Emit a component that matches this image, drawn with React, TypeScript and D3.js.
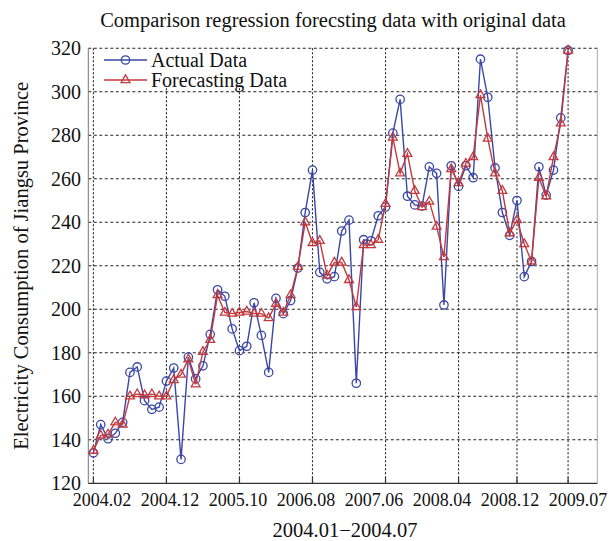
import * as d3 from 'd3';

// month index counted from 2004.01 (= 0), data runs 2004.02 .. 2009.07
const months = d3.range(1, 67);

const actual = [
  134, 147, 140.5, 143, 148, 171, 173.5, 158, 154, 155,
  167, 173, 131, 178, 168, 174, 188.5, 209, 206, 191,
  181, 183, 203, 188, 171, 205, 198, 204, 219, 244.5,
  264, 217, 214, 215, 236, 241, 166, 232, 231.5, 243,
  247, 281, 296.5, 252, 248, 247.5, 265.5, 262.5, 202, 266,
  256.5, 266, 260.5, 315, 297.5, 265, 244.5, 234, 250, 215,
  222, 265.5, 252.5, 264, 288, 319,
];

const forecast = [
  135, 142, 142.5, 148, 147, 160, 161, 160.5, 161, 160,
  160, 167.5, 170, 177, 165.5, 180.5, 186, 206.5, 198.5, 198,
  198.5, 199, 198, 198, 196, 202.5, 198.5, 206.5, 219.5, 240,
  230.5, 231.5, 215.5, 221.5, 221.5, 213.5, 201, 229.5, 229.5, 232,
  248.5, 279, 262.5, 271.5, 254.5, 247, 249.5, 238, 224, 264.5,
  258, 267, 270, 298.5, 278.5, 262.5, 254.5, 235, 241, 230,
  222, 260.5, 252, 270, 285.5, 319,
];

const tickMonths = [1, 11, 21, 31, 41, 51, 59, 66];
const tickLabels = ['2004.02', '2004.12', '2005.10', '2006.08', '2007.06', '2008.04', '2008.12', '2009.07'];
const yTicks = [120, 140, 160, 180, 200, 220, 240, 260, 280, 300, 320];

const BLUE = '#3a47a6';
const RED = '#c23a3e';
const FONT = '"Liberation Serif", "Times New Roman", serif';

export default function App() {
  const width = 611;
  const height = 541;
  const plot = { left: 88.3, right: 597.3, top: 48.3, bottom: 483.3 };

  const x = d3.scaleLinear().domain([0.3, 70]).range([plot.left, plot.right]);
  const y = d3.scaleLinear().domain([120, 320]).range([plot.bottom, plot.top]);
  // the printed labels sit evenly spread, not exactly under their ticks
  const xl = d3.scalePoint<string>().domain(tickLabels).range([102, 578]);

  const line = d3
    .line<number>()
    .x((_d, i) => x(months[i]))
    .y((d) => y(d));

  const tri = d3.symbol(d3.symbolTriangle, 34)() ?? '';

  return (
    <svg
      width={width}
      height={height}
      style={{ position: 'absolute', left: 0, top: 0, background: '#fff' }}
      fontFamily={FONT}
    >
      <text x={333} y={27} textAnchor="middle" fontSize={20.5} fill="#111">
        Comparison regression forecsting data with original data
      </text>

      {/* horizontal grid */}
      {yTicks.slice(1).map((t) => (
        <line
          key={`h${t}`}
          x1={plot.left}
          x2={plot.right}
          y1={y(t)}
          y2={y(t)}
          stroke="#222"
          strokeWidth={1.1}
          strokeDasharray="3,2.5"
        />
      ))}
      {/* vertical grid */}
      {tickMonths.map((m) => (
        <line
          key={`v${m}`}
          x1={x(m)}
          x2={x(m)}
          y1={plot.top}
          y2={plot.bottom}
          stroke="#222"
          strokeWidth={1.1}
          strokeDasharray="2,2"
        />
      ))}

      {/* frame */}
      <line x1={plot.left} x2={plot.left} y1={plot.top} y2={plot.bottom} stroke="#777" strokeWidth={1} />
      <line x1={plot.right} x2={plot.right} y1={plot.top} y2={plot.bottom} stroke="#aaa" strokeWidth={1} />
      <line x1={plot.left} x2={plot.right} y1={plot.bottom} y2={plot.bottom} stroke="#333" strokeWidth={1.3} />
      {tickMonths.map((m) => (
        <line key={`t${m}`} x1={x(m)} x2={x(m)} y1={plot.bottom} y2={plot.bottom - 6} stroke="#333" strokeWidth={1.2} />
      ))}

      {/* y tick labels */}
      {yTicks.map((t) => (
        <text key={`yl${t}`} x={81} y={y(t)} dy="0.35em" textAnchor="end" fontSize={20} fill="#111">
          {t}
        </text>
      ))}
      {/* x tick labels */}
      {tickLabels.map((l) => (
        <text key={l} x={xl(l)} y={506} textAnchor="middle" fontSize={18} fill="#111">
          {l}
        </text>
      ))}

      <text x={345} y={537} textAnchor="middle" fontSize={20.5} fill="#111">
        2004.01−2004.07
      </text>
      <text
        transform={`translate(28,${(plot.top + plot.bottom) / 2}) rotate(-90)`}
        textAnchor="middle"
        fontSize={20.5}
        fill="#111"
      >
        Electricity Consumption of Jiangsu Province
      </text>

      {/* actual series */}
      <path d={line(actual) ?? ''} fill="none" stroke={BLUE} strokeWidth={1.4} />
      {actual.map((v, i) => (
        <circle key={`a${i}`} cx={x(months[i])} cy={y(v)} r={4.2} fill="none" stroke={BLUE} strokeWidth={1.3} />
      ))}

      {/* forecast series */}
      <path d={line(forecast) ?? ''} fill="none" stroke={RED} strokeWidth={1.4} />
      {forecast.map((v, i) => (
        <path
          key={`f${i}`}
          d={tri}
          transform={`translate(${x(months[i])},${y(v)})`}
          fill="none"
          stroke={RED}
          strokeWidth={1.3}
        />
      ))}

      {/* legend */}
      <rect x={97} y={plot.top + 1} width={205} height={37} fill="#fff" />
      <line x1={104} x2={147} y1={60} y2={60} stroke={BLUE} strokeWidth={1.4} />
      <circle cx={125.5} cy={60} r={4.2} fill="none" stroke={BLUE} strokeWidth={1.3} />
      <text x={151} y={60} dy="0.35em" fontSize={20} fill="#111">
        Actual Data
      </text>
      <line x1={104} x2={147} y1={80} y2={80} stroke={RED} strokeWidth={1.4} />
      <path d={tri} transform="translate(125.5,80)" fill="none" stroke={RED} strokeWidth={1.3} />
      <text x={151} y={80} dy="0.35em" fontSize={20} fill="#111">
        Forecasting Data
      </text>
    </svg>
  );
}
